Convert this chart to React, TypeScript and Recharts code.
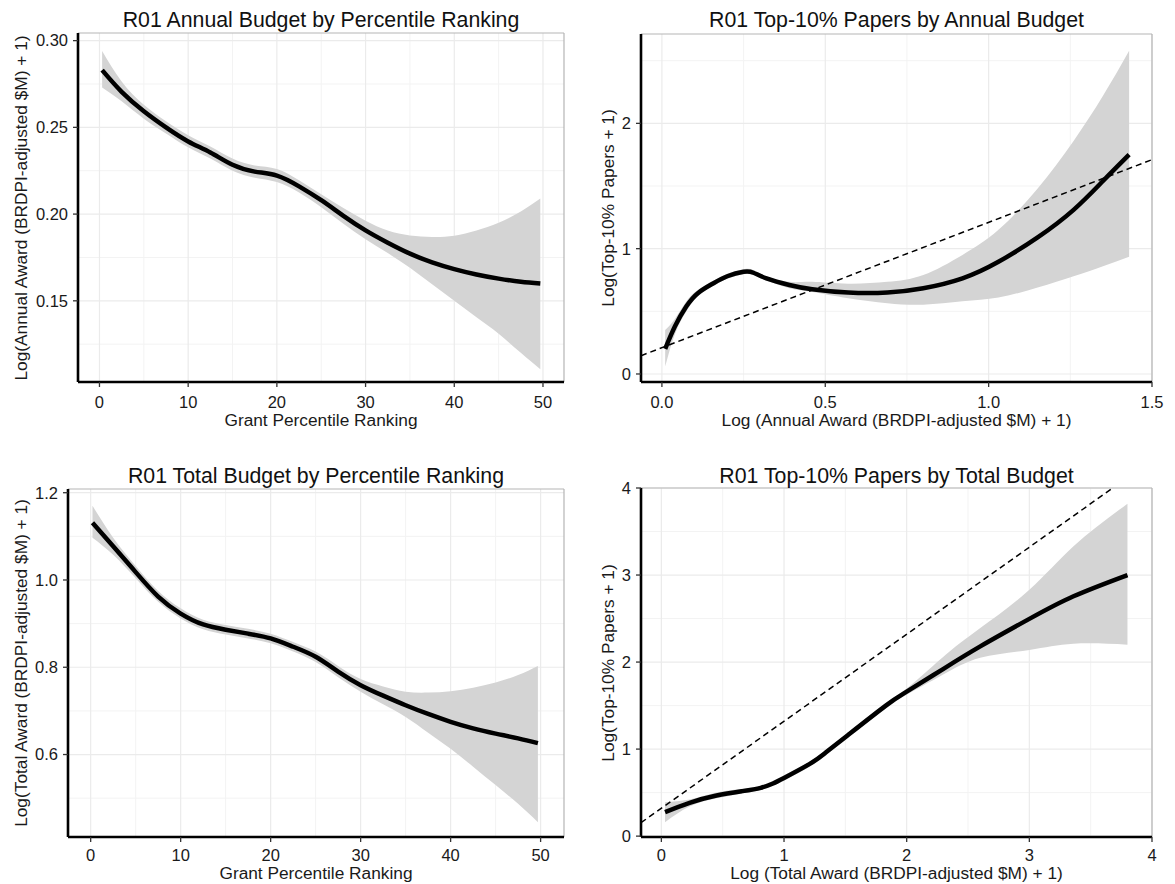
import React from 'react'
import { ComposedChart, Area, Line, XAxis, YAxis, CartesianGrid, ReferenceLine } from 'recharts'

const FONT = '"Liberation Sans", Arial, Helvetica, sans-serif'

// Annual budget by percentile ranking
const pctA = [0.3, 2.5, 5, 7.5, 10, 12.5, 15, 17.5, 20, 22.5, 25, 27.5, 30, 32.5, 35, 37.5, 40, 42.5, 45, 47.5, 49.7]
const fitA = [0.283, 0.2705, 0.2593, 0.25, 0.2419, 0.2355, 0.2284, 0.2245, 0.2222, 0.216, 0.208, 0.199, 0.1906, 0.1835, 0.1772, 0.1722, 0.1683, 0.1652, 0.1628, 0.161, 0.16]
const loA = [0.273, 0.265, 0.255, 0.2465, 0.2385, 0.232, 0.225, 0.221, 0.2185, 0.2125, 0.204, 0.1945, 0.1855, 0.1775, 0.169, 0.1595, 0.15, 0.1405, 0.131, 0.12, 0.1105]
const hiA = [0.294, 0.2765, 0.263, 0.2535, 0.2455, 0.239, 0.232, 0.228, 0.226, 0.2195, 0.2115, 0.2035, 0.1962, 0.1905, 0.1877, 0.1868, 0.1875, 0.1905, 0.195, 0.2015, 0.209]

// Top-10% papers by annual budget
const awardB = [0.01, 0.04, 0.075, 0.11, 0.155, 0.2, 0.25, 0.28, 0.32, 0.39, 0.46, 0.57, 0.69, 0.8, 0.92, 1.03, 1.15, 1.26, 1.35, 1.43]
const fitB = [0.2, 0.38, 0.54, 0.645, 0.72, 0.78, 0.815, 0.808, 0.763, 0.71, 0.676, 0.65, 0.65, 0.684, 0.763, 0.895, 1.09, 1.31, 1.54, 1.75]
const loB = [0.06, 0.32, 0.5, 0.62, 0.7, 0.76, 0.795, 0.79, 0.745, 0.685, 0.655, 0.605, 0.565, 0.553, 0.58, 0.61, 0.69, 0.78, 0.86, 0.935]
const hiB = [0.35, 0.44, 0.58, 0.67, 0.74, 0.8, 0.835, 0.83, 0.78, 0.735, 0.735, 0.72, 0.735, 0.79, 0.95, 1.15, 1.48, 1.86, 2.22, 2.58]

// Total budget by percentile ranking
const pctC = [0.2, 2.5, 5, 7.5, 10, 12.5, 15, 17.5, 20, 22.5, 25, 27.5, 30, 32.5, 35, 37.5, 40, 42.5, 45, 47.5, 49.7]
const fitC = [1.131, 1.0775, 1.018, 0.962, 0.923, 0.898, 0.886, 0.877, 0.866, 0.847, 0.824, 0.79, 0.759, 0.735, 0.713, 0.693, 0.675, 0.66, 0.648, 0.637, 0.626]
const loC = [1.097, 1.058, 1.004, 0.95, 0.912, 0.887, 0.875, 0.866, 0.855, 0.836, 0.812, 0.777, 0.744, 0.715, 0.686, 0.65, 0.613, 0.572, 0.53, 0.487, 0.445]
const hiC = [1.17, 1.097, 1.032, 0.975, 0.935, 0.909, 0.897, 0.888, 0.877, 0.858, 0.836, 0.803, 0.773, 0.756, 0.744, 0.742, 0.745, 0.753, 0.765, 0.782, 0.803]

// Top-10% papers by total budget
const awardD = [0.03, 0.23, 0.45, 0.66, 0.81, 0.91, 1.0, 1.21, 1.34, 1.52, 1.83, 2.0, 2.29, 2.6, 3.0, 3.36, 3.8]
const fitD = [0.276, 0.383, 0.467, 0.517, 0.555, 0.605, 0.668, 0.83, 0.96, 1.16, 1.5, 1.66, 1.914, 2.18, 2.496, 2.756, 3.0]
const loD = [0.16, 0.34, 0.435, 0.49, 0.53, 0.578, 0.638, 0.8, 0.932, 1.133, 1.47, 1.625, 1.85, 2.05, 2.14, 2.21, 2.2]
const hiD = [0.39, 0.42, 0.5, 0.545, 0.58, 0.633, 0.698, 0.858, 0.988, 1.188, 1.53, 1.695, 2.05, 2.39, 2.83, 3.33, 3.82]

// dashed reference lines (intercept, slope)
const ablineB = [0.21, 1.0]
const ablineD = [0.32, 1.0]

const rows = (xs: number[], fit: number[], lo: number[], hi: number[]) =>
  xs.map((x, i) => ({ x, fit: fit[i], lo: lo[i], hi: hi[i] }))

const panels = [
  {
    title: 'R01 Annual Budget by Percentile Ranking',
    xLabel: 'Grant Percentile Ranking',
    yLabel: 'Log(Annual Award (BRDPI-adjusted $M) + 1)',
    data: rows(pctA, fitA, loA, hiA),
    box: { left: 0, top: 0, width: 580, height: 440 },
    plot: { L: 78, T: 33, R: 564, B: 382 },
    xDomain: [-2.42, 52.37],
    yDomain: [0.1032, 0.3044],
    xTicks: [0, 10, 20, 30, 40, 50],
    xMinor: [5, 15, 25, 35, 45],
    yTicks: [0.15, 0.2, 0.25, 0.3],
    yMinor: [0.125, 0.175, 0.225, 0.275],
    xFmt: (v: number) => String(v),
    yFmt: (v: number) => v.toFixed(2),
    abline: null as number[] | null,
    titleBase: 28,
    xLabelBase: 426.5,
    yLabelX: 21.5,
    tickGap: 9,
  },
  {
    title: 'R01 Top-10% Papers by Annual Budget',
    xLabel: 'Log (Annual Award (BRDPI-adjusted $M) + 1)',
    yLabel: 'Log(Top-10% Papers + 1)',
    data: rows(awardB, fitB, loB, hiB),
    box: { left: 580, top: 0, width: 595, height: 440 },
    plot: { L: 641, T: 34, R: 1152, B: 382 },
    xDomain: [-0.064, 1.5],
    yDomain: [-0.064, 2.713],
    xTicks: [0, 0.5, 1, 1.5],
    xMinor: [0.25, 0.75, 1.25],
    yTicks: [0, 1, 2],
    yMinor: [0.5, 1.5, 2.5],
    xFmt: (v: number) => v.toFixed(1),
    yFmt: (v: number) => String(v),
    abline: ablineB,
    titleBase: 28,
    xLabelBase: 426.5,
    yLabelX: 608.5,
    tickGap: 9,
  },
  {
    title: 'R01 Total Budget by Percentile Ranking',
    xLabel: 'Grant Percentile Ranking',
    yLabel: 'Log(Total Award (BRDPI-adjusted $M) + 1)',
    data: rows(pctC, fitC, loC, hiC),
    box: { left: 0, top: 440, width: 580, height: 444 },
    plot: { L: 68, T: 489, R: 564, B: 837 },
    xDomain: [-2.52, 52.6],
    yDomain: [0.411, 1.2085],
    xTicks: [0, 10, 20, 30, 40, 50],
    xMinor: [5, 15, 25, 35, 45],
    yTicks: [0.6, 0.8, 1.0, 1.2],
    yMinor: [0.5, 0.7, 0.9, 1.1],
    xFmt: (v: number) => String(v),
    yFmt: (v: number) => v.toFixed(1),
    abline: null as number[] | null,
    titleBase: 484,
    xLabelBase: 879.5,
    yLabelX: 21.5,
    tickGap: 7,
  },
  {
    title: 'R01 Top-10% Papers by Total Budget',
    xLabel: 'Log (Total Award (BRDPI-adjusted $M) + 1)',
    yLabel: 'Log(Top-10% Papers + 1)',
    data: rows(awardD, fitD, loD, hiD),
    box: { left: 580, top: 440, width: 595, height: 444 },
    plot: { L: 641, T: 488, R: 1152, B: 837 },
    xDomain: [-0.166, 4.0],
    yDomain: [-0.01, 4.0],
    xTicks: [0, 1, 2, 3, 4],
    xMinor: [0.5, 1.5, 2.5, 3.5],
    yTicks: [0, 1, 2, 3, 4],
    yMinor: [0.5, 1.5, 2.5, 3.5],
    xFmt: (v: number) => String(v),
    yFmt: (v: number) => String(v),
    abline: ablineD,
    titleBase: 484,
    xLabelBase: 879.5,
    yLabelX: 608.5,
    tickGap: 7,
  },
]

type PanelCfg = (typeof panels)[number]

const TITLE_FS = 21.3
const LABEL_FS = 17.3
const TICK_FS = 16.5
const X_AXIS_H = 40

function Panel({ cfg }: { cfg: PanelCfg }) {
  const { box, plot, xDomain, yDomain } = cfg
  const margin = {
    top: plot.T - box.top,
    right: box.left + box.width - plot.R,
    bottom: box.top + box.height - plot.B - X_AXIS_H,
    left: 0,
  }
  const tickStyle = { fill: '#1a1a1a', fontSize: TICK_FS, fontFamily: FONT }
  const cy = (plot.T + plot.B) / 2

  return (
    <>
      <div style={{ position: 'absolute', left: box.left, top: box.top }}>
        <ComposedChart width={box.width} height={box.height} data={cfg.data} margin={margin}>
          <CartesianGrid horizontalValues={cfg.yMinor} verticalValues={cfg.xMinor} stroke="#f3f3f3" strokeWidth={1} />
          <CartesianGrid horizontalValues={cfg.yTicks} verticalValues={cfg.xTicks} stroke="#ebebeb" strokeWidth={1.2} />
          <CartesianGrid horizontalValues={[yDomain[1]]} verticalValues={[xDomain[1]]} stroke="#b5b5b5" strokeWidth={1.2} />
          <XAxis
            dataKey="x"
            type="number"
            domain={xDomain}
            allowDataOverflow
            ticks={cfg.xTicks}
            interval={0}
            tickFormatter={cfg.xFmt}
            height={X_AXIS_H}
            tickSize={5}
            tickMargin={cfg.tickGap}
            tick={tickStyle}
            axisLine={{ stroke: '#000', strokeWidth: 2.6 }}
            tickLine={{ stroke: '#333', strokeWidth: 1.3 }}
          />
          <YAxis
            type="number"
            domain={yDomain}
            allowDataOverflow
            ticks={cfg.yTicks}
            interval={0}
            tickFormatter={cfg.yFmt}
            width={plot.L - box.left}
            tickSize={5}
            tickMargin={5}
            tick={tickStyle}
            axisLine={{ stroke: '#000', strokeWidth: 2.6 }}
            tickLine={{ stroke: '#333', strokeWidth: 1.3 }}
          />
          <Area
            dataKey={(d: { lo: number; hi: number }) => [d.lo, d.hi]}
            type="natural"
            stroke="none"
            fill="#d4d4d4"
            fillOpacity={1}
            isAnimationActive={false}
          />
          <Line
            dataKey="fit"
            type="natural"
            stroke="#000"
            strokeWidth={4.5}
            dot={false}
            activeDot={false}
            isAnimationActive={false}
          />
          {cfg.abline && (
            <ReferenceLine
              segment={[
                { x: xDomain[0], y: cfg.abline[0] + cfg.abline[1] * xDomain[0] },
                { x: xDomain[1], y: cfg.abline[0] + cfg.abline[1] * xDomain[1] },
              ]}
              stroke="#000"
              strokeWidth={1.5}
              strokeDasharray="6 4"
              ifOverflow="hidden"
            />
          )}
        </ComposedChart>
      </div>
      <div
        style={{
          position: 'absolute',
          left: plot.L - 100,
          width: plot.R - plot.L + 200,
          top: cfg.titleBase - 0.8465 * TITLE_FS,
          textAlign: 'center',
          fontSize: TITLE_FS,
          lineHeight: `${TITLE_FS}px`,
          color: '#111',
          whiteSpace: 'nowrap',
        }}
      >
        {cfg.title}
      </div>
      <div
        style={{
          position: 'absolute',
          left: plot.L - 100,
          width: plot.R - plot.L + 200,
          top: cfg.xLabelBase - 0.8465 * LABEL_FS,
          textAlign: 'center',
          fontSize: LABEL_FS,
          lineHeight: `${LABEL_FS}px`,
          color: '#1a1a1a',
          whiteSpace: 'nowrap',
        }}
      >
        {cfg.xLabel}
      </div>
      <div
        style={{
          position: 'absolute',
          left: cfg.yLabelX,
          top: cy,
          transform: 'translate(-50%, -50%) rotate(-90deg)',
          fontSize: LABEL_FS,
          lineHeight: `${LABEL_FS}px`,
          color: '#1a1a1a',
          whiteSpace: 'nowrap',
        }}
      >
        {cfg.yLabel}
      </div>
    </>
  )
}

export default function App() {
  return (
    <div
      style={{
        position: 'absolute',
        left: 0,
        top: 0,
        width: 1175,
        height: 884,
        background: '#fff',
        fontFamily: FONT,
        overflow: 'hidden',
      }}
    >
      {panels.map((p) => (
        <Panel key={p.title} cfg={p} />
      ))}
    </div>
  )
}
